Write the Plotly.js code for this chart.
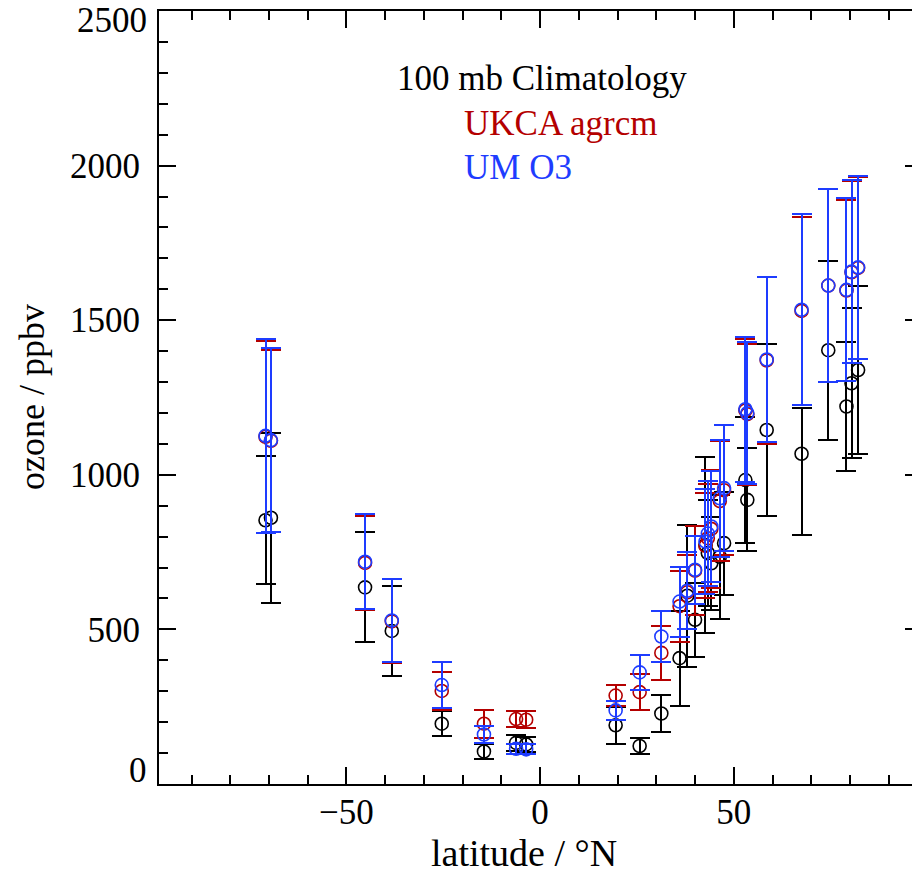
<!DOCTYPE html>
<html>
<head>
<meta charset="utf-8">
<script src="https://cdn.plot.ly/plotly-3.0.1.min.js"></script>
<style>
  html, body { margin: 0; padding: 0; overflow: hidden; background: #fff; }
  #plot { width: 925px; height: 873px; }
  /* keep the error-bar strokes pixel-sharp so overlapping bars hide each other cleanly */
  #plot .errorbar path { shape-rendering: crispEdges; }
</style>
</head>
<body>
<div id="plot"></div>
<script>
// Station latitudes (degrees N)
const lat = [-70.9, -69.5, -45.2, -38.3, -25.4, -14.5, -6.2, -3.6,
             19.5, 25.7, 31.3, 36.0, 38.0, 40.0, 42.7, 43.3, 44.2, 46.4, 47.5,
             53.0, 53.5, 58.5, 67.5, 74.4, 79.1, 80.4, 82.1];

// 100 mb ozone climatology (ppbv) with spread
const climMean = [853, 861, 636, 495, 195, 105, 133, 128,
                  190, 123, 228, 407, 609, 531, 773, 747, 714, 735, 779,
                  983, 919, 1145, 1068, 1403, 1221, 1296, 1339];
const climErrPlus = [207, 275, 178, 146, 41, 23, 25, 25,
                     60, 25, 61, 154, 229, 120, 285, 172, 151, 200, 167,
                     205, 167, 278, 149, 290, 208, 242, 271];
const climErrMinus = [207, 275, 178, 146, 41, 23, 25, 25,
                      60, 25, 61, 154, 229, 120, 285, 172, 151, 200, 167,
                      205, 167, 278, 262, 290, 208, 242, 271];

// UKCA agrcm
const ukcaMean = [1123, 1110, 715, 526, 301, 195, 210, 208,
                  286, 297, 424, 575, 620, 690, 770, 795, 825, 915, 950,
                  1208, 1196, 1370, 1530, 1612, 1596, 1655, 1669];
const ukcaErr = [311, 295, 152, 136, 61, 45, 27, 27,
                 35, 59, 88, 115, 120, 145, 170, 175, 190, 195, 210,
                 232, 228, 271, 303, 312, 294, 294, 294];

// UM O3
const umMean = [1126, 1112, 719, 529, 320, 160, 114, 112,
                238, 361, 477, 590, 625, 693, 784, 810, 833, 924, 957,
                1212, 1199, 1373, 1534, 1612, 1598, 1657, 1671];
const umErr = [314, 297, 154, 133, 74, 29, 16, 16,
               32, 56, 84, 113, 125, 110, 170, 170, 180, 189, 204,
               235, 230, 268, 308, 311, 296, 296, 296];

const BLACK = '#000000';
const RED = '#b40000';
const BLUE = '#1e3cff';
const FONT = 'Liberation Serif, Times New Roman, serif';

function series(name, y, plus, minus, color) {
  return {
    type: 'scatter', mode: 'markers', name: name,
    x: lat, y: y,
    marker: { symbol: 'circle-open', size: 13, color: color, line: { width: 1.6, color: color } },
    error_y: {
      type: 'data', symmetric: minus === undefined, array: plus,
      arrayminus: minus, color: color, thickness: 2, width: 10
    },
    showlegend: false, hoverinfo: 'skip'
  };
}

const data = [
  series('100 mb Climatology', climMean, climErrPlus, climErrMinus, BLACK),
  series('UKCA agrcm', ukcaMean, ukcaErr, undefined, RED),
  series('UM O3', umMean, umErr, undefined, BLUE)
];

const axisCommon = {
  showline: true, linecolor: BLACK, linewidth: 2,
  mirror: 'allticks', ticks: 'inside', tickcolor: BLACK, tickwidth: 2, ticklen: 17,
  showgrid: false, zeroline: false,
  tickfont: { family: FONT, size: 35, color: BLACK }
};

const layout = {
  width: 925, height: 873,
  margin: { l: 159, r: 3, t: 11, b: 89 },
  paper_bgcolor: '#fff', plot_bgcolor: '#fff',
  font: { family: FONT, color: BLACK },
  xaxis: Object.assign({}, axisCommon, {
    range: [-98.4, 98.6], tickmode: 'linear', tick0: 0, dtick: 50,
    tickformat: 'd', ticklabelstandoff: -4,
    minor: { ticks: 'inside', ticklen: 9, tickwidth: 2, tickcolor: BLACK, dtick: 10, tick0: 0 }
  }),
  yaxis: Object.assign({}, axisCommon, {
    range: [0, 2500], tickmode: 'array',
    tickvals: [0, 500, 1000, 1500, 2000, 2500],
    ticktext: ['', '500', '1000', '1500', '2000', ''],
    ticklabelstandoff: 10,
    minor: { ticks: 'inside', ticklen: 9, tickwidth: 2, tickcolor: BLACK, dtick: 100, tick0: 0 }
  }),
  annotations: [
    // end labels of the y axis sit inside the frame
    { xref: 'paper', yref: 'y', x: 0, y: 0, xanchor: 'right', yanchor: 'middle',
      xshift: -10, yshift: 14, text: '0', showarrow: false,
      font: { family: FONT, size: 35, color: BLACK } },
    { xref: 'paper', yref: 'y', x: 0, y: 2500, xanchor: 'right', yanchor: 'middle',
      xshift: -10, yshift: -9, text: '2500', showarrow: false,
      font: { family: FONT, size: 35, color: BLACK } },
    // axis titles
    { xref: 'paper', yref: 'paper', x: 0.478, y: -0.089, xanchor: 'center', yanchor: 'middle',
      text: 'latitude / °N', showarrow: false,
      font: { family: FONT, size: 38, color: BLACK } },
    { xref: 'paper', yref: 'paper', x: -0.167, y: 0.5, xanchor: 'center', yanchor: 'middle',
      text: 'ozone / ppbv', textangle: -90, showarrow: false,
      font: { family: FONT, size: 36, color: BLACK } },
    // series key
    { xref: 'paper', yref: 'paper', x: 0.309, y: 0.913, xanchor: 'left', yanchor: 'middle',
      text: '100 mb Climatology', showarrow: false,
      font: { family: FONT, size: 35, color: BLACK } },
    { xref: 'paper', yref: 'paper', x: 0.397, y: 0.854, xanchor: 'left', yanchor: 'middle',
      text: 'UKCA agrcm', showarrow: false,
      font: { family: FONT, size: 35, color: RED } },
    { xref: 'paper', yref: 'paper', x: 0.397, y: 0.798, xanchor: 'left', yanchor: 'middle',
      text: 'UM O3', showarrow: false,
      font: { family: FONT, size: 35, color: BLUE } }
  ]
};

Plotly.newPlot('plot', data, layout, { staticPlot: true, displayModeBar: false });
</script>
</body>
</html>
